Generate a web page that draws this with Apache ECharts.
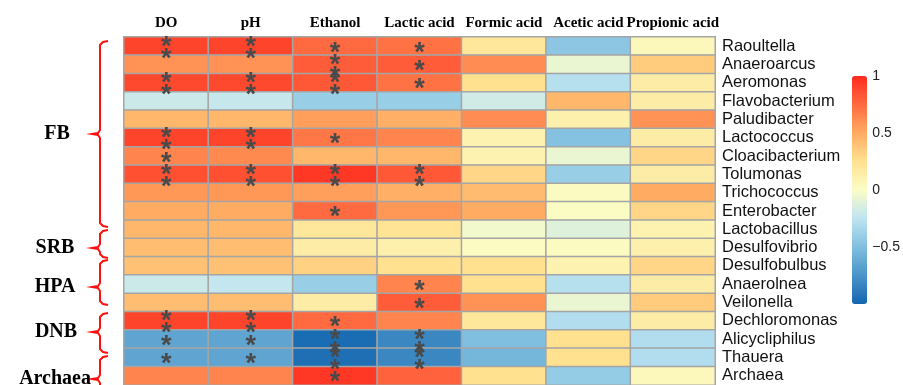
<!DOCTYPE html>
<html>
<head>
<meta charset="utf-8">
<script src="https://cdn.jsdelivr.net/npm/echarts@6/dist/echarts.min.js"></script>
<style>
  html, body { margin: 0; padding: 0; background: #fff; }
  #chart { width: 903px; height: 385px; }
</style>
</head>
<body>
<div id="chart"></div>
<script>
// Environmental factors (columns) and genera (rows, top to bottom)
const factors = ['DO', 'pH', 'Ethanol', 'Lactic acid', 'Formic acid', 'Acetic acid', 'Propionic acid'];
const genera = ['Raoultella', 'Anaeroarcus', 'Aeromonas', 'Flavobacterium', 'Paludibacter',
  'Lactococcus', 'Cloacibacterium', 'Tolumonas', 'Trichococcus', 'Enterobacter',
  'Lactobacillus', 'Desulfovibrio', 'Desulfobulbus', 'Anaerolnea', 'Veilonella',
  'Dechloromonas', 'Alicycliphilus', 'Thauera', 'Archaea'];

// Correlation coefficients, one array per factor (same order as genera)
const rDO        = [0.90, 0.60, 0.88, -0.20, 0.45, 0.90, 0.65, 0.85, 0.58, 0.50, 0.45, 0.42, 0.40, -0.20, 0.42, 0.90, -0.65, -0.65, 0.65];
const rPH        = [0.90, 0.60, 0.88, -0.22, 0.45, 0.90, 0.63, 0.85, 0.58, 0.50, 0.45, 0.42, 0.40, -0.23, 0.42, 0.90, -0.65, -0.65, 0.65];
const rEthanol   = [0.75, 0.80, 0.82, -0.40, 0.55, 0.70, 0.45, 0.95, 0.55, 0.75, 0.20, 0.15, 0.32, -0.40, 0.15, 0.75, -0.97, -0.95, 0.95];
const rLactic    = [0.72, 0.80, 0.72, -0.40, 0.48, 0.65, 0.45, 0.82, 0.48, 0.58, 0.22, 0.12, 0.25, 0.65, 0.80, 0.65, -0.82, -0.82, 0.78];
const rFormic    = [0.20, 0.62, 0.25, -0.18, 0.62, 0.10, 0.10, 0.30, 0.43, 0.50, -0.04, 0.02, 0.25, 0.25, 0.60, 0.20, -0.50, -0.55, 0.25];
const rAcetic    = [-0.45, -0.07, -0.28, 0.45, 0.12, -0.48, -0.07, -0.40, 0.03, 0.01, -0.12, 0.03, 0.10, -0.28, -0.07, -0.30, 0.25, 0.25, -0.42];
const rPropionic = [0.05, 0.35, 0.15, 0.15, 0.60, 0.15, 0.30, 0.15, 0.50, 0.30, 0.10, 0.12, 0.30, 0.15, 0.35, 0.15, -0.30, -0.30, 0.05];

// Significance level per cell: 0 = none, 1 = *, 2 = **
const sigDO        = [2, 0, 2, 0, 0, 2, 1, 2, 0, 0, 0, 0, 0, 0, 0, 2, 1, 1, 0];
const sigPH        = [2, 0, 2, 0, 0, 2, 0, 2, 0, 0, 0, 0, 0, 0, 0, 2, 1, 1, 0];
const sigEthanol   = [1, 2, 2, 0, 0, 1, 0, 2, 0, 1, 0, 0, 0, 0, 0, 1, 2, 2, 1];
const sigLactic    = [1, 1, 1, 0, 0, 0, 0, 2, 0, 0, 0, 0, 0, 1, 1, 0, 2, 2, 0];
const sigFormic    = new Array(19).fill(0);
const sigAcetic    = new Array(19).fill(0);
const sigPropionic = new Array(19).fill(0);

// Colour bar tick labels
const scaleTicks = [1, 0.5, 0, -0.5];

// Functional groups bracketing the rows on the left
const groupNames = ['FB', 'SRB', 'HPA', 'DNB', 'Archaea'];

const rColumns = [rDO, rPH, rEthanol, rLactic, rFormic, rAcetic, rPropionic];
const sigColumns = [sigDO, sigPH, sigEthanol, sigLactic, sigFormic, sigAcetic, sigPropionic];

const cells = [];
rColumns.forEach((col, xi) => {
  col.forEach((v, yi) => {
    cells.push([xi, yi, v, sigColumns[xi][yi]]);
  });
});

const starText = ['', '*', '*\n*'];

// Brace geometry for the group annotations
const braceX = 100, braceHook = 108, braceTip = 92;
const braces = [
  { top: 41,  tip: 134, bottom: 227, tx: 57, align: 'center' },
  { top: 230, tip: 248, bottom: 258, tx: 55, align: 'center' },
  { top: 260, tip: 287, bottom: 305, tx: 55, align: 'center' },
  { top: 313, tip: 332, bottom: 353, tx: 56, align: 'center' },
  { top: 356, tip: 379, bottom: 400, tx: 91, align: 'right' }
];

const graphics = [];
braces.forEach((b, i) => {
  graphics.push({
    type: 'polyline',
    silent: true,
    shape: {
      points: [
        [braceHook, b.top], [braceX + 3, b.top + 1], [braceX, b.top + 4],
        [braceX, b.tip - 4], [braceX - 2, b.tip - 1], [braceTip, b.tip],
        [braceX - 2, b.tip + 1], [braceX, b.tip + 4],
        [braceX, b.bottom - 4], [braceX + 3, b.bottom - 1], [braceHook, b.bottom]
      ]
    },
    style: { stroke: '#ff1010', lineWidth: 2, fill: null }
  });
  graphics.push({
    type: 'text',
    silent: true,
    x: b.tx,
    y: b.tip,
    style: {
      text: groupNames[i],
      font: 'bold 20px "Liberation Serif", "Times New Roman", serif',
      fill: '#000',
      align: b.align,
      verticalAlign: 'middle'
    }
  });
});

const chart = echarts.init(document.getElementById('chart'), null, { renderer: 'canvas' });

chart.setOption({
  animation: false,
  backgroundColor: '#fff',
  grid: [
    { left: 124, top: 37, width: 591, height: 349.6 },
    { left: 852, top: 76, width: 15, height: 228 }
  ],
  xAxis: [
    {
      gridIndex: 0,
      type: 'category',
      data: factors,
      position: 'top',
      axisLine: { show: false },
      axisTick: { show: false },
      splitLine: { show: false },
      axisLabel: {
        margin: 6,
        color: '#000',
        fontSize: 15,
        fontWeight: 'bold',
        fontFamily: '"Liberation Serif", "Times New Roman", serif',
        interval: 0
      }
    },
    { gridIndex: 1, type: 'value', show: false }
  ],
  yAxis: [
    {
      gridIndex: 0,
      type: 'category',
      data: genera,
      inverse: true,
      position: 'right',
      axisLine: { show: false },
      axisTick: { show: false },
      splitLine: { show: false },
      axisLabel: {
        margin: 7,
        color: '#111',
        fontSize: 16.5,
        fontFamily: '"Liberation Sans", Arial, sans-serif',
        interval: 0
      }
    },
    {
      gridIndex: 1,
      type: 'value',
      min: -1,
      max: 1,
      interval: 0.5,
      position: 'right',
      axisLine: { show: false },
      axisTick: { show: false },
      splitLine: { show: false },
      axisLabel: {
        margin: 6,
        color: '#222',
        fontSize: 14,
        fontFamily: '"Liberation Sans", Arial, sans-serif',
        formatter: v => scaleTicks.indexOf(v) >= 0 ? String(v).replace('-', '\u2212') : ''
      }
    }
  ],
  visualMap: {
    type: 'continuous',
    seriesIndex: 0,
    dimension: 2,
    min: -1,
    max: 1,
    left: 852,
    top: 76,
    padding: 0,
    itemWidth: 15,
    itemHeight: 228,
    calculable: false,
    hoverLink: false,
    showLabel: false,
    text: null,
    inRange: {
      color: ['#1466b0', '#4a94c9', '#80bfe0', '#bfe4f1', '#fbfdc6',
              '#ffe190', '#ffac62', '#ff6a40', '#ff2a1e']
    }
  },
  graphic: graphics,
  series: [{
    type: 'heatmap',
    xAxisIndex: 0,
    yAxisIndex: 0,
    data: cells,
    encode: { x: 0, y: 1, value: 2 },
    itemStyle: { borderColor: '#a5a5a5', borderWidth: 1.5 },
    emphasis: { disabled: true },
    label: {
      show: true,
      formatter: p => starText[p.data[3]],
      color: '#4a4a4a',
      fontSize: 27,
      fontWeight: 'bold',
      lineHeight: 12,
      offset: [0, 7],
      fontFamily: '"Liberation Sans", Arial, sans-serif'
    }
  }]
});
</script>
</body>
</html>
